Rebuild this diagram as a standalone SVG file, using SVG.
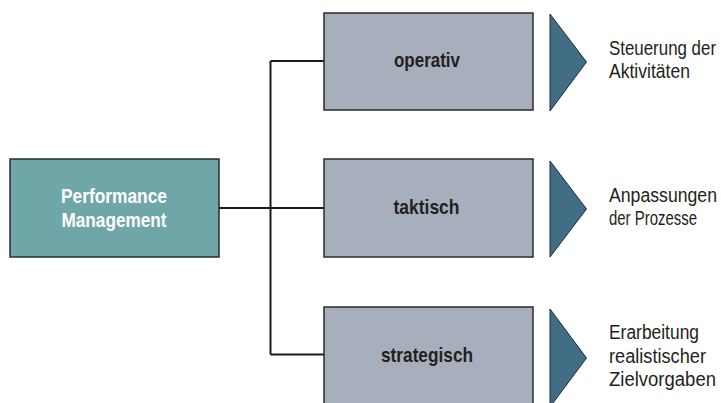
<svg xmlns="http://www.w3.org/2000/svg" width="721" height="403" viewBox="0 0 721 403">
<style>
.box{stroke:#2b2b2d;stroke-width:1.5}
.pm{fill:#6fa7a9}
.lvl{fill:#a7afbd}
.tri{fill:#426e85;stroke:#1f2a30;stroke-width:1}
.lbl{font-family:"Liberation Sans",Arial,sans-serif;font-weight:bold;font-size:21px;text-anchor:middle}
.w{fill:#ffffff}
.d{fill:#231f20}
.desc{font-family:"Liberation Sans",Arial,sans-serif;font-size:21px;fill:#231f20}
.conn{fill:none;stroke:#1a1a1a;stroke-width:2}
</style>
<rect width="721" height="403" fill="#ffffff"/>
<g id="connectors">
<path class="conn" d="M270.5,61 V354.5 M270.5,61 H324 M219,208 H324 M270.5,354.5 H324"/>
</g>
<g id="performance-management">
<rect class="box pm" x="10" y="159" width="209" height="98"/>
<text class="lbl w" x="114" y="203" textLength="106" lengthAdjust="spacingAndGlyphs">Performance</text>
<text class="lbl w" x="114" y="226.5" textLength="105" lengthAdjust="spacingAndGlyphs">Management</text>
</g>
<g id="operativ">
<rect class="box lvl" x="324" y="13" width="209" height="97"/>
<text class="lbl d" x="427" y="67" textLength="66" lengthAdjust="spacingAndGlyphs">operativ</text>
</g>
<g id="taktisch">
<rect class="box lvl" x="324" y="159" width="209" height="98"/>
<text class="lbl d" x="426.5" y="213.5" textLength="66" lengthAdjust="spacingAndGlyphs">taktisch</text>
</g>
<g id="strategisch">
<rect class="box lvl" x="324" y="307" width="209" height="100"/>
<text class="lbl d" x="427" y="362" textLength="92" lengthAdjust="spacingAndGlyphs">strategisch</text>
</g>
<g id="arrow-operativ">
<polygon class="tri" points="550,14 586.5,62 550,111"/>
</g>
<g id="arrow-taktisch">
<polygon class="tri" points="550,161 586.5,209 550,257"/>
</g>
<g id="arrow-strategisch">
<polygon class="tri" points="550,309 586.5,358 550,407"/>
</g>
<g id="text-operativ" transform="translate(609 0) scale(0.8 1)">
<text class="desc" x="0" y="55.5" textLength="133.75" lengthAdjust="spacingAndGlyphs">Steuerung der</text>
<text class="desc" x="0" y="78.5" textLength="101.25" lengthAdjust="spacingAndGlyphs">Aktivitäten</text>
</g>
<g id="text-taktisch" transform="translate(609 0) scale(0.8 1)">
<text class="desc" x="0" y="202" textLength="135" lengthAdjust="spacingAndGlyphs">Anpassungen</text>
<text class="desc" x="0" y="225.5" textLength="110" lengthAdjust="spacingAndGlyphs">der Prozesse</text>
</g>
<g id="text-strategisch" transform="translate(609 0) scale(0.8 1)">
<text class="desc" x="0" y="339.5" textLength="112.5" lengthAdjust="spacingAndGlyphs">Erarbeitung</text>
<text class="desc" x="0" y="363" textLength="121.25" lengthAdjust="spacingAndGlyphs">realistischer</text>
<text class="desc" x="0" y="386.5" textLength="133.75" lengthAdjust="spacingAndGlyphs">Zielvorgaben</text>
</g>
</svg>
